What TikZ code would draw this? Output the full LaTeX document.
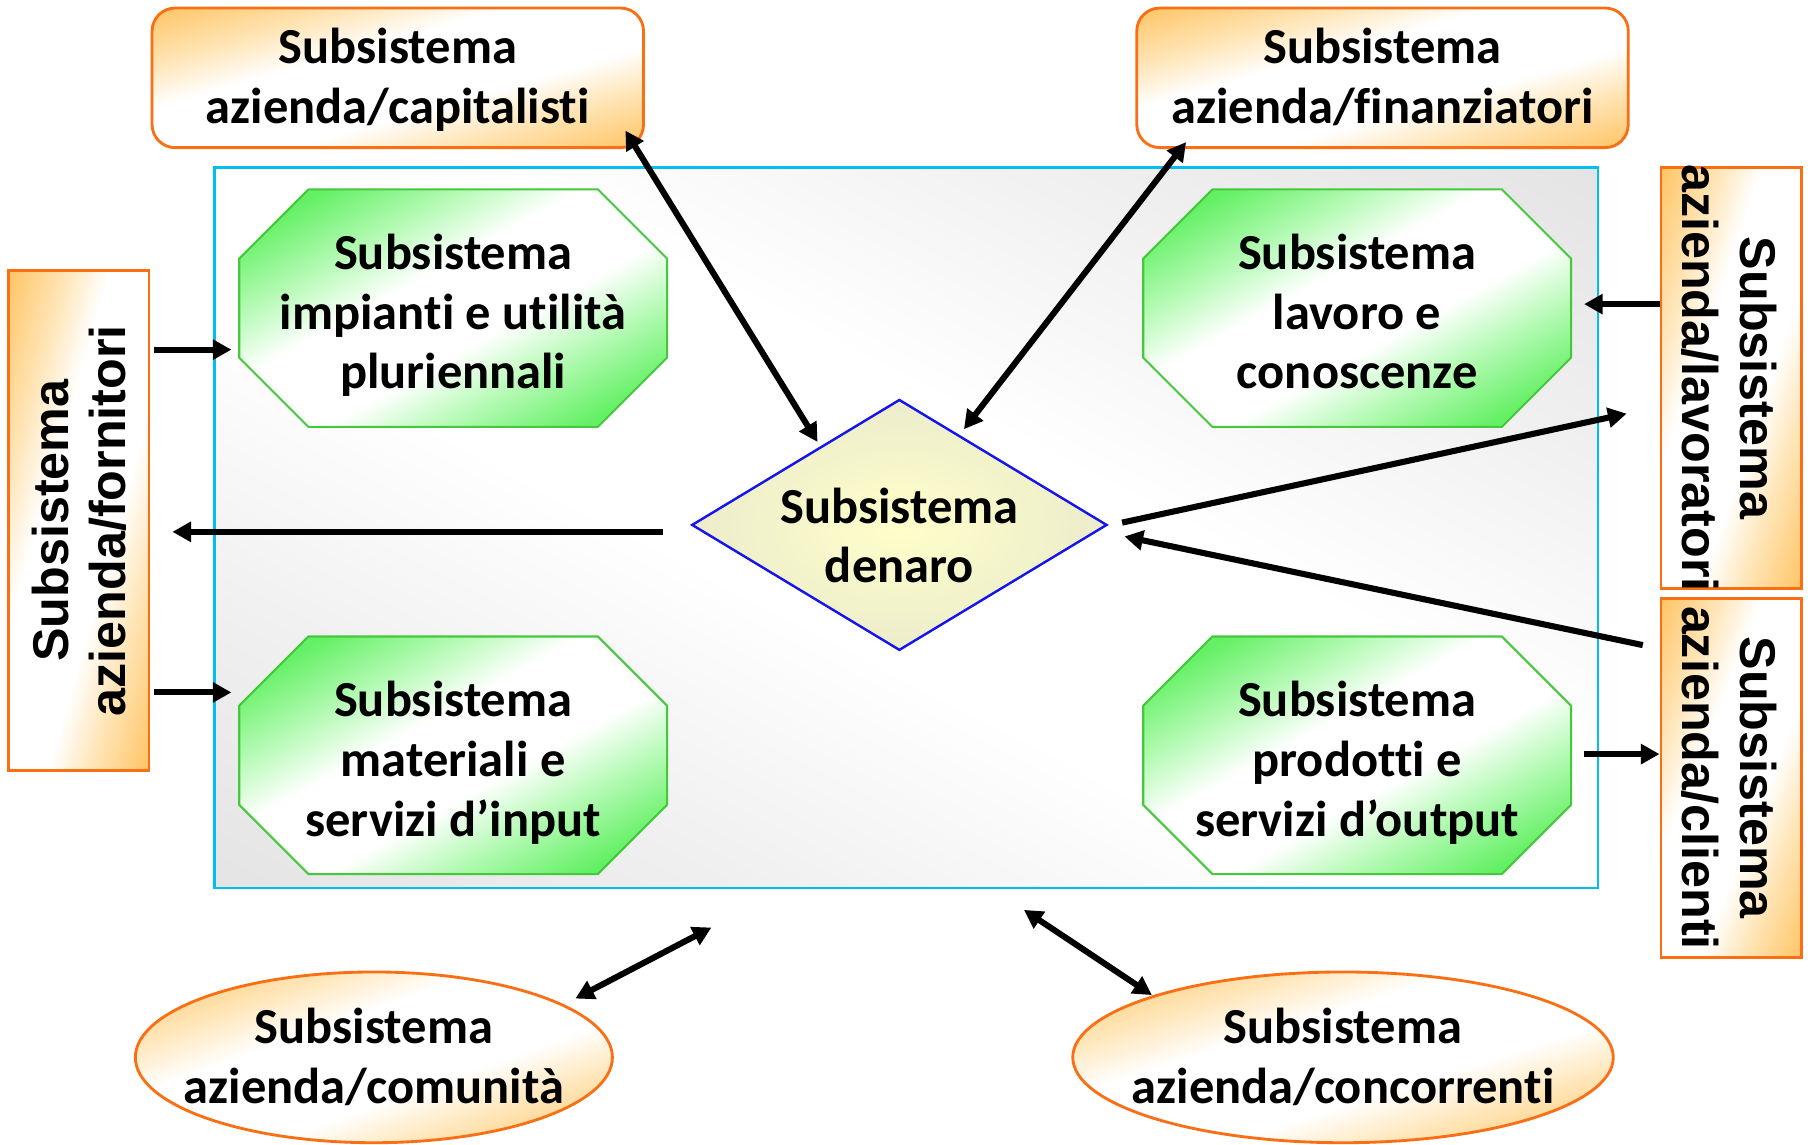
\documentclass[tikz,border=0pt]{standalone}
\usepackage{fontspec}
\setmainfont{Carlito}[Ligatures=NoCommon]
\newfontfamily\arialfont{Liberation Sans}
\usetikzlibrary{shapes.geometric,arrows.meta,calc}

\definecolor{orB}{RGB}{250,110,20}
\definecolor{orF}{RGB}{255,196,100}
\definecolor{orM}{RGB}{255,228,180}
\definecolor{grB}{RGB}{70,200,60}
\definecolor{grF}{RGB}{100,240,100}
\definecolor{grM}{RGB}{180,250,180}
\definecolor{cyB}{RGB}{0,190,240}
\definecolor{gyF}{RGB}{228,228,228}
\definecolor{gyM}{RGB}{240,240,240}
\definecolor{blB}{RGB}{20,20,235}
\definecolor{yeF}{RGB}{255,255,202}
\definecolor{beF}{RGB}{236,236,204}

% corners of the shaded box lie at 25bp / 75bp
\pgfdeclareverticalshading{orsh}{100bp}{color(0bp)=(orF); color(25bp)=(orF); color(35bp)=(orM); color(43bp)=(white); color(57bp)=(white); color(65bp)=(orM); color(75bp)=(orF); color(100bp)=(orF)}
\pgfdeclareverticalshading{grsh}{100bp}{color(0bp)=(grF); color(30bp)=(grF); color(38bp)=(grM); color(45bp)=(white); color(55bp)=(white); color(62bp)=(grM); color(70bp)=(grF); color(100bp)=(grF)}
\pgfdeclareverticalshading{gysh}{100bp}{color(0bp)=(gyF); color(25bp)=(gyF); color(35bp)=(gyM); color(45bp)=(white); color(55bp)=(white); color(65bp)=(gyM); color(75bp)=(gyF); color(100bp)=(gyF)}

\tikzset{
  dshade/.style 2 args={path picture={%
    \pgfpointdiff{\pgfpointanchor{path picture bounding box}{south west}}{\pgfpointanchor{path picture bounding box}{north east}}%
    \pgfgetlastxy{\dsw}{\dsh}%
    \pgfmathsetmacro\dsx{abs(\dsw)/2}\pgfmathsetmacro\dsy{abs(\dsh)/2}%
    \begin{pgfscope}%
      \pgftransformshift{\pgfpointanchor{path picture bounding box}{center}}%
      \pgftransformxscale{\dsx}\pgftransformyscale{\dsy}\pgftransformrotate{#2}%
      \pgflowlevelsynccm
      \shade[shading=#1] (-1.4143pt,-1.4143pt) rectangle (1.4143pt,1.4143pt);
    \end{pgfscope}}},
  txt/.style={font=\fontsize{12.45}{14.7}\selectfont\bfseries, align=center, text=black, inner sep=0pt},
  vtxt/.style={font=\arialfont\fontsize{12.4}{14.2}\selectfont\bfseries, align=center, text=black, inner sep=0pt},
  orbox/.style={draw=orB, line width=0.7pt, dshade={orsh}{45}, rounded corners=0.2cm, minimum width=4.26cm, minimum height=1.21cm, inner sep=0pt},
  vbox/.style={draw=orB, line width=0.7pt, dshade={orsh}{45}, minimum width=1.22cm, inner sep=0pt},
  orell/.style={draw=orB, line width=0.7pt, dshade={orsh}{45}, ellipse, minimum height=1.48cm, inner sep=0pt},
  octfill/.style={draw=grB, line width=0.5pt, dshade={grsh}{45}},
  octbox/.style={minimum width=3.71cm, minimum height=2.06cm, inner sep=0pt},
  sysbox/.style={draw=cyB, line width=0.7pt, dshade={gysh}{-45}, minimum width=11.99cm, minimum height=6.245cm},
  denbox/.style={diamond, draw=blB, line width=0.6pt, inner color=yeF, outer color=beF, aspect=1.655, minimum width=3.6cm, minimum height=2.175cm, inner sep=0pt},
  arr/.style={line width=1.5pt, -{Triangle[length=4.6pt,width=4.8pt]}},
  darr/.style={line width=1.5pt, {Triangle[length=4.6pt,width=4.8pt]}-{Triangle[length=4.6pt,width=4.8pt]}}
}

% octagon: name, cx, cy, text
\newcommand\octo[4]{%
  \path[octfill] ({#2-185.5},{#3-43}) -- ({#2-125.5},{#3-103}) -- ({#2+125.5},{#3-103}) -- ({#2+185.5},{#3-43}) -- ({#2+185.5},{#3+43}) -- ({#2+125.5},{#3+103}) -- ({#2-125.5},{#3+103}) -- ({#2-185.5},{#3+43}) -- cycle;
  \node[octbox] (#1) at (#2,#3) {};
  \node[txt] (#1T) at ($(#1)+(0,8)$) {#4};
}

\begin{document}
\begin{tikzpicture}[x=0.01cm,y=-0.01cm]
\useasboundingbox (0,0) rectangle (1568,992.2);

% main system rectangle
\node[sysbox] (sys) at (786,457.75) {};

% green octagons
\octo{imp}{393}{267.25}{\strut Subsistema\\impianti e utilità\\pluriennali\strut}
\octo{lab}{1177}{267.25}{\strut Subsistema\\lavoro e\\conoscenze\strut}
\octo{mat}{393}{655}{\strut Subsistema\\materiali e\\servizi d’input\strut}
\octo{prod}{1177}{655}{\strut Subsistema\\prodotti e\\servizi d’output\strut}

% money diamond
\node[denbox] (den) at (780,455.25) {};
\node[txt] (denT) at ($(den)+(0,14)$) {\strut Subsistema\\denaro\strut};

% external subsystems
\node[orbox] (cap) at (345,67.5) {};
\node[txt] (capT) at ($(cap)+(0,3.5)$) {\strut Subsistema\\azienda/capitalisti\strut};
\node[orbox] (fin) at (1199,67.5) {};
\node[txt] (finT) at ($(fin)+(0,3.5)$) {\strut Subsistema\\azienda/finanziatori\strut};

\node[vbox, minimum height=4.33cm] (forn) at (68.25,451.5) {};
\node[vtxt, rotate=90] (fornT) at ($(forn)+(6,0)$) {\strut Subsistema\\azienda/fornitori\strut};
\node[vbox, minimum height=3.645cm] (lav) at (1501.5,327.75) {};
\node[vtxt, rotate=-90] (lavT) at ($(lav)+(-7,0)$) {\strut Subsistema\\azienda/lavoratori\strut};
\node[vbox, minimum height=3.116cm] (cli) at (1501.5,674.6) {};
\node[vtxt, rotate=-90] (cliT) at ($(cli)+(-7,0)$) {\strut Subsistema\\azienda/clienti\strut};

\node[orell, minimum width=4.135cm] (com) at (324.25,917) {};
\node[txt] (comT) at ($(com)+(0,3.4)$) {\strut Subsistema\\azienda/comunità\strut};
\node[orell, minimum width=4.685cm] (con) at (1164.75,917) {};
\node[txt] (conT) at ($(con)+(0,3.4)$) {\strut Subsistema\\azienda/concorrenti\strut};

% connectors
\draw[darr] ($(cap.south east)+(-17,-16)$) -- ($(den)+(-71,-72)$);
\draw[darr] ($(fin.south west)+(44,-6)$) -- ($(den)+(56,-83)$);
\draw[arr] ($(forn.east|-imp.west)+(3,36)$) -- ($(imp.west)+(-6,36)$);
\draw[arr] ($(forn.east|-mat.west)+(3,-54.5)$) -- ($(mat.west)+(-6,-54.5)$);
\draw[arr] ($(den.west)+(-24,6)$) -- ($(forn.east|-den.west)+(19,6)$);
\draw[arr] ($(lav.west|-lab.east)+(0,-3.5)$) -- ($(lab.east)+(10.5,-3.5)$);
\draw[arr] ($(den.east)+(12,-2)$) -- ($(lav.west)+(-28.5,31)$);
\draw[arr] ($(cli.north west)+(-14.5,42)$) -- ($(den.east)+(14,10)$);
\draw[arr] ($(prod.east)+(10.5,-1)$) -- ($(cli.west|-prod.east)+(0,-1)$);
\coordinate (comEnd) at ($(sys.south)+(-169,33)$);
\coordinate (conEnd) at ($(sys.south)+(102,17.7)$);
\draw[darr] ($(com)+(174.75,-51)$) -- (comEnd);
\draw[darr] ($(con)+(-165.75,-54)$) -- (conEnd);
\end{tikzpicture}
\end{document}
